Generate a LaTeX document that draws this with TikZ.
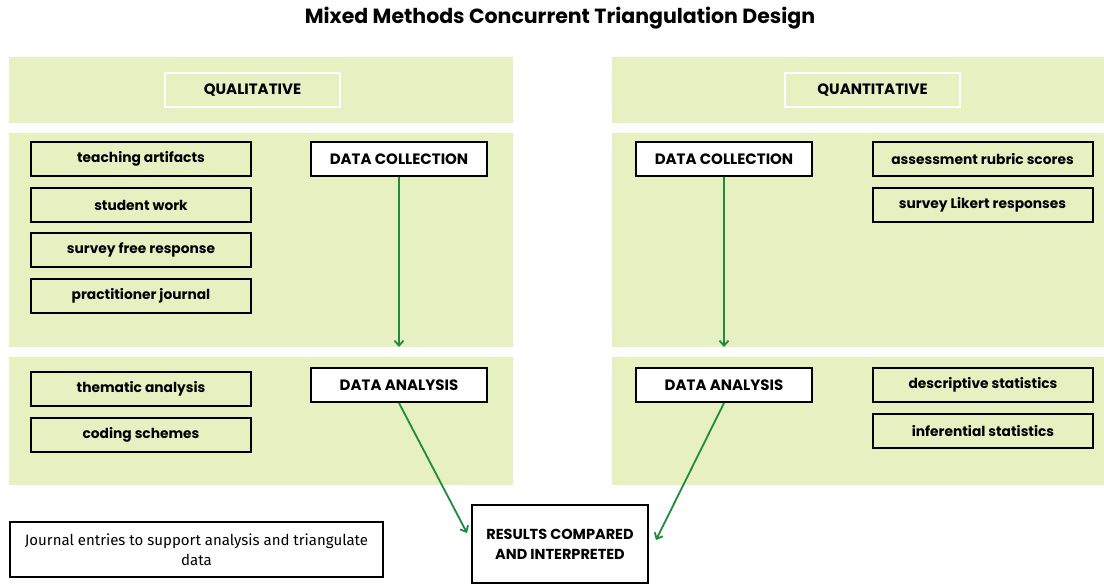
\documentclass[tikz,border=0pt]{standalone}
\usepackage{fontspec}
\setmainfont{Poppins}
\newfontfamily\journalfont{Fira Sans}
\usepackage{tikz}
\usetikzlibrary{positioning,arrows.meta}
\definecolor{panelgreen}{HTML}{E6F0C0}
\definecolor{arrowgreen}{HTML}{1E8C3A}
\tikzset{
  itembox/.style={draw=black,line width=2pt,minimum width=220pt,minimum height=34pt,inner sep=0pt,font=\fontsize{13.8}{16}\selectfont\bfseries},
  stagebox/.style={itembox,fill=white,minimum width=176pt,font=\fontsize{15}{18}\selectfont\bfseries},
  headbox/.style={draw=white,line width=2pt,minimum width=175pt,minimum height=34pt,inner sep=0pt,font=\fontsize{15}{18}\selectfont\bfseries},
  flow/.style={draw=arrowgreen,line width=1.8pt,-{Straight Barb[length=5pt,width=9pt]}}
}
\begin{document}
\begin{tikzpicture}[x=1pt,y=-1pt]
\useasboundingbox (0,0) rectangle (1104,584);

% panels
\fill[panelgreen] (9,57) rectangle (513,123);
\fill[panelgreen] (612,57) rectangle (1104,123);
\fill[panelgreen] (9,133) rectangle (513,347);
\fill[panelgreen] (612,133) rectangle (1104,347);
\fill[panelgreen] (9,357) rectangle (513,485);
\fill[panelgreen] (612,357) rectangle (1104,485);

\node (title) at (560,18) {\fontsize{20.5}{24}\selectfont\bfseries Mixed Methods Concurrent Triangulation Design};

\node[headbox] (qual) at (252.5,90) {QUALITATIVE};
\node[headbox] (quant) at (872.5,90) {QUANTITATIVE};

% qualitative side
\node[itembox] (i1) at (141,159) {teaching artifacts};
\node[itembox] (i2) at (141,205) {student work};
\node[itembox] (i3) at (141,250) {survey free response};
\node[itembox] (i4) at (141,296) {practitioner journal};
\node[stagebox] (dcl) at (399,159) {DATA COLLECTION};
\node[itembox] (a1) at (141,389) {thematic analysis};
\node[itembox] (a2) at (141,435) {coding schemes};
\node[stagebox] (dal) at (399,385) {DATA ANALYSIS};

% quantitative side
\node[stagebox] (dcr) at (724,159) {DATA COLLECTION};
\node[itembox] (q1) at (982.5,159) {assessment rubric scores};
\node[itembox] (q2) at (982.5,205) {survey Likert responses};
\node[stagebox] (dar) at (724,385) {DATA ANALYSIS};
\node[itembox] (s1) at (983,385) {descriptive statistics};
\node[itembox] (s2) at (983,431) {inferential statistics};

% bottom
\node[draw=black,line width=1.6pt,minimum width=373pt,minimum height=55pt,align=center,
  font=\journalfont\fontsize{15}{20}\selectfont] (jour) at (196.5,549.5)
  {Journal entries to support analysis and triangulate\\data};
\node[stagebox,minimum height=78pt,align=center,font=\fontsize{14.5}{20}\selectfont\bfseries] (res) at (560,544)
  {RESULTS COMPARED\\AND INTERPRETED};

\coordinate (dcl-end) at (399,347);
\coordinate (dcr-end) at (724,347);
\coordinate (resl) at (467,533);
\coordinate (resr) at (656,540);

\draw[flow] (dcl) -- (dcl-end);
\draw[flow] (dcr) -- (dcr-end);
\draw[flow] (dal.south) -- (resl);
\draw[flow] (dar.south) -- (resr);

\end{tikzpicture}
\end{document}
